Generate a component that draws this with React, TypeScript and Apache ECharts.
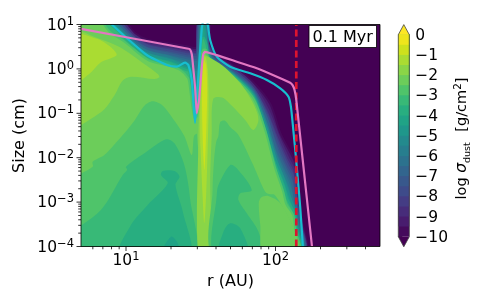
import React, { useEffect, useRef } from "react";
import * as echarts from "echarts";

type P = [number, number];
// All contour outlines and curves are [log10 r (AU), log10 size (cm)].
const level10: P[] = [[.699,-4],[.699,1],[.96,1],[1.06,.809],[1.148,.651],[1.295,.572],[1.415,.505],[1.455,.471],[1.479,.493],[1.482,1],[1.556,1],[1.559,.561],[1.596,.336],[1.717,.072],[1.851,-.295],[1.965,-.791],[2.032,-1.444],[2.098,-1.872],[2.132,-2.12],[2.152,-2.728],[2.169,-3.291],[2.186,-4]];
const level9: P[] = [[.699,-4],[.699,1],[.94,1],[1.06,.752],[1.148,.583],[1.295,.493],[1.402,.426],[1.442,.403],[1.469,.381],[1.475,.426],[1.486,1],[1.549,1],[1.552,.561],[1.57,.426],[1.596,.279],[1.717,.032],[1.851,-.363],[1.951,-.926],[2.025,-1.556],[2.085,-2.007],[2.125,-2.277],[2.145,-2.818],[2.165,-3.358],[2.182,-4]];
const level8: P[] = [[.699,-4],[.699,1],[.913,1],[1.06,.696],[1.148,.516],[1.295,.414],[1.402,.336],[1.442,.324],[1.469,.313],[1.475,.358],[1.489,1],[1.546,1],[1.549,.561],[1.566,.403],[1.596,.245],[1.717,-.014],[1.851,-.43],[1.945,-1.038],[2.018,-1.691],[2.078,-2.142],[2.118,-2.412],[2.139,-2.908],[2.162,-3.403],[2.179,-4]];
const level7: P[] = [[.699,-4],[.699,1],[.893,1],[1.06,.64],[1.148,.448],[1.295,.336],[1.402,.245],[1.442,.223],[1.469,.2],[1.479,.245],[1.496,1],[1.539,1],[1.546,.561],[1.563,.358],[1.596,.2],[1.717,-.07],[1.851,-.475],[1.945,-1.129],[2.011,-1.827],[2.072,-2.277],[2.109,-2.547],[2.132,-2.998],[2.159,-3.448],[2.176,-4]];
const level6: P[] = [[.699,-4],[.699,1],[.873,1],[1.06,.583],[1.148,.392],[1.295,.268],[1.402,.155],[1.428,.133],[1.449,.02],[1.466,-.025],[1.479,.02],[1.496,.538],[1.502,1],[1.532,1],[1.543,.561],[1.559,.313],[1.596,.167],[1.717,-.104],[1.851,-.52],[1.938,-1.218],[2.005,-1.939],[2.065,-2.412],[2.098,-2.682],[2.125,-3.088],[2.152,-3.493],[2.172,-4]];
const level5: P[] = [[.699,-4],[.699,1],[.853,1],[1.06,.527],[1.148,.336],[1.295,.2],[1.402,.065],[1.425,.043],[1.445,-.25],[1.466,-.43],[1.479,-.363],[1.492,.2],[1.502,.921],[1.516,.989],[1.529,.921],[1.539,.538],[1.556,.291],[1.596,.133],[1.717,-.126],[1.851,-.565],[1.938,-1.309],[2.005,-2.052],[2.059,-2.502],[2.088,-2.795],[2.125,-3.155],[2.145,-3.538],[2.169,-4]];
const level4: P[] = [[.699,-4],[.699,1],[.832,1],[1.06,.471],[1.148,.268],[1.295,.133],[1.402,-.025],[1.422,-.047],[1.439,-.363],[1.455,-.813],[1.469,-.813],[1.479,-.768],[1.492,-.137],[1.499,.426],[1.509,.696],[1.522,.696],[1.539,.538],[1.552,.268],[1.596,.11],[1.717,-.149],[1.851,-.61],[1.931,-1.399],[1.998,-2.142],[2.055,-2.637],[2.079,-2.93],[2.122,-3.223],[2.139,-3.583],[2.165,-4]];
const level3: P[] = [[.699,-4],[.699,1],[.806,1],[.893,.831],[.993,.606],[1.148,.2],[1.295,.065],[1.362,-.025],[1.415,-.205],[1.428,-.43],[1.442,-.813],[1.459,-1.106],[1.475,-1.061],[1.489,-.475],[1.496,-.025],[1.502,.245],[1.516,.426],[1.536,.426],[1.549,.268],[1.603,.065],[1.717,-.182],[1.851,-.655],[1.931,-1.376],[1.998,-2.232],[2.052,-2.773],[2.072,-3.043],[2.118,-3.291],[2.132,-3.628],[2.158,-4]];

const leftB: P[] = [[.699,.86],[.826,.673],[.96,.487],[1.122,.11],[1.212,-.115],[1.223,-.19],[1.189,-.227],[1.033,-.175],[.977,-.266],[.921,-.604],[.832,-.978],[.699,-1.331]];
const leftA: P[] = [[.699,.786],[.81,.673],[.899,.487],[.938,.32],[.899,.239],[.832,.149],[.754,-.115],[.699,-.437]];
const leftD: P[] = [[.699,-2.615],[.777,-2.203],[.777,-2.09],[.855,-1.94],[.978,-1.489],[1.056,-1.167],[1.123,-.829],[1.179,-.73],[1.246,-.829],[1.324,-1.167],[1.39,-1.511],[1.44,-1.939],[1.455,-1.511],[1.475,-1.466],[1.478,-4],[.699,-4]];
const leftE: P[] = [[.699,-3.815],[.832,-3.178],[.978,-2.39],[1.007,-2.277],[1,-2.203],[1.123,-1.901],[1.268,-1.586],[1.324,-1.676],[1.39,-2.164],[1.428,-2.907],[1.446,-4],[.699,-4]];
const leftF: P[] = [[.955,-4],[1.033,-3.516],[1.145,-3.065],[1.279,-2.577],[1.234,-2.39],[1.246,-2.3],[1.324,-2.3],[1.358,-2.428],[1.331,-2.615],[1.38,-3.216],[1.424,-4]];
const leftG: P[] = [[1.234,-4],[1.301,-3.78],[1.346,-3.928],[1.357,-4]];

const ridgeB: P[] = [[1.484,-4],[1.484,-1.601],[1.492,-.7],[1.499,-.07],[1.516,.313],[1.541,.291],[1.649,.065],[1.764,-.318],[1.831,-.655],[1.878,-.993],[1.884,-1.196],[1.851,-1.376],[1.797,-1.151],[1.71,-.836],[1.643,-.644],[1.583,-.678],[1.573,-1.511],[1.563,-2.502],[1.563,-4]];
const ridgeA: P[] = [[1.496,-1.601],[1.499,-.475],[1.509,.155],[1.522,.291],[1.536,.245],[1.549,-.137],[1.552,-.926],[1.546,-1.827],[1.536,-2.84],[1.524,-3.471],[1.512,-2.84],[1.499,-1.827]];
const ridgeY: P[] = [[1.512,-.025],[1.522,.2],[1.536,.088],[1.543,-.475],[1.539,-1.151],[1.532,-1.827],[1.524,-2.277],[1.516,-1.827],[1.509,-.926]];

const rightD: P[] = [[1.618,-1.511],[1.63,-1.196],[1.663,-1.167],[1.697,-1.309],[1.752,-1.489],[1.851,-2.164],[1.931,-2.766],[1.965,-2.824],[1.991,-2.829],[2.032,-3.02],[2.118,-3.583],[2.152,-4],[1.585,-4],[1.579,-2.728],[1.589,-2.052],[1.603,-1.646]];
const rightE: P[] = [[1.589,-4],[1.607,-2.84],[1.618,-2.615],[1.697,-2.164],[1.741,-2.239],[1.841,-2.728],[1.764,-2.802],[1.752,-2.953],[1.808,-3.252],[1.886,-3.667],[1.908,-4]];
const rightF: P[] = [[1.618,-4],[1.652,-3.667],[1.697,-3.478],[1.764,-3.59],[1.819,-4]];
const rightBlob: P[] = [[1.888,-3.02],[1.904,-2.897],[1.951,-2.863],[2.032,-3.027],[2.121,-3.59],[2.154,-4],[1.92,-4],[1.898,-3.516]];

const pinkCurve: P[] = [[.699,.9],[1.408,.46],[1.428,.44],[1.44,.33],[1.446,.16],[1.462,-.408],[1.473,-1],[1.489,-.7],[1.507,.05],[1.517,.33],[1.527,.385],[1.741,.162],[1.875,.014],[2.009,-.176],[2.098,-.31],[2.115,-.37],[2.127,-.47],[2.139,-.7],[2.244,-4]];
const cyanCurve: P[] = [[.905,1],[1.005,.696],[1.139,.313],[1.272,.088],[1.339,.05],[1.395,.14],[1.417,.088],[1.44,-.25],[1.462,-1.216],[1.475,-.588],[1.496,.426],[1.506,.876],[1.511,1],[1.53,1.3],[1.547,1],[1.563,.651],[1.607,.275],[1.697,.05],[1.831,-.1],[1.942,-.25],[2.032,-.437],[2.087,-.626],[2.103,-.851],[2.117,-1.3],[2.132,-1.827],[2.144,-2.277],[2.165,-3.1],[2.183,-4]];
const cutoffR = 137.7;

const rMinorTicks = [6, 7, 8, 9, 20, 30, 40, 50, 60, 70, 80, 90, 200, 300, 400];
const rMajorTicks = [10, 100];
const sizeMajorTicks = [1e-4, 1e-3, 1e-2, 1e-1, 1, 10];
const sizeMinorTicks = [2e-4,3e-4,4e-4,5e-4,6e-4,7e-4,8e-4,9e-4,2e-3,3e-3,4e-3,5e-3,6e-3,7e-3,8e-3,9e-3,.02,.03,.04,.05,.06,.07,.08,.09,.2,.3,.4,.5,.6,.7,.8,.9,2,3,4,5,6,7,8,9];

const bandLows = [-10,-9.5,-9,-8.5,-8,-7.5,-7,-6.5,-6,-5.5,-5,-4.5,-4,-3.5,-3,-2.5,-2,-1.5,-1,-0.5];
const bandColors = ["#450a5c","#481c6e","#472c7a","#443c84","#3e4b8a","#38588c","#32658e","#2c728e","#277e8e","#238a8d","#1f978b","#20a386","#28ae80","#38b977","#4fc46a","#6ccd5a","#8ad547","#aadc32","#cde11d","#eee51c"];

const UNDER = "#440154";
// outline, fill, colour of the half-decade band along its edge
const regions: [P[], string, string | null][] = [
  [level10, "#481c6e", "#450a5c"], [level9, "#443c84", "#472c7a"], [level8, "#38588c", "#3e4b8a"], [level7, "#2c728e", "#32658e"],
  [level6, "#238a8d", "#277e8e"], [level5, "#20a386", "#1f978b"], [level4, "#38b977", "#28ae80"], [level3, "#6ccd5a", "#4fc46a"],
  [leftB, "#8ad547", null], [leftA, "#aadc32", null], [leftD, "#4fc46a", null], [leftE, "#38b977", null], [leftF, "#28ae80", null], [leftG, "#20a386", null],
  [ridgeB, "#8ad547", null], [ridgeA, "#aadc32", null], [ridgeY, "#cde11d", null],
  [rightD, "#4fc46a", null], [rightE, "#38b977", null], [rightF, "#28ae80", null], [rightBlob, "#6ccd5a", null],
];

const FONT = "DejaVu Sans";
const toAU = (p: P[]) => p.map(([a, b]) => [Math.pow(10, a), Math.pow(10, b)]);
// Outlines that stop on the frame run on past it, so that smoothing never rounds them inside the plot.
const pastFrame = (p: P[]): P[] => p.map(([a, b]) => [a <= 0.699 ? 0.6 : a, b >= 1 ? 1.15 : b <= -4 ? -4.2 : b]);
const powerLabel = (v: number) => {
  const e = Math.log10(v);
  const r = Math.round(e);
  if (Math.abs(e - r) > 1e-6) return "";
  return `{b|10}{s|${String(r).replace("-", "\u2212")}}`;
};
const richPower = {
  b: { fontFamily: FONT, fontSize: 15.5, color: "#000", lineHeight: 20 },
  s: { fontFamily: FONT, fontSize: 11.5, color: "#000", lineHeight: 11, verticalAlign: "top" },
};

export default function App() {
  const ref = useRef<HTMLDivElement>(null);
  useEffect(() => {
    const chart = echarts.init(ref.current!, null, { renderer: "svg" });
    const tickItem = (axis: "x" | "y", len: number) => (_: any, api: any) => {
      const v = api.value(0);
      const p = axis === "x" ? api.coord([v, 1e-4]) : api.coord([5, v]);
      return {
        type: "line",
        shape: axis === "x" ? { x1: p[0], y1: p[1], x2: p[0], y2: p[1] + len } : { x1: p[0], y1: p[1], x2: p[0] - len, y2: p[1] },
        style: { stroke: "#000", lineWidth: 0.8 },
      };
    };
    const tickSeries = (axis: "x" | "y", values: number[], len: number) => ({
      type: "custom", clip: false, z: 6, silent: true,
      renderItem: tickItem(axis, len),
      encode: axis === "x" ? { x: 0 } : { y: 0 },
      data: values.map((v) => [v]),
    });
    chart.setOption({
      animation: false,
      grid: [
        { left: 81, top: 24.5, width: 299, height: 222, show: true, backgroundColor: UNDER, borderWidth: 0 },
        { left: 398.3, top: 34.7, width: 11, height: 202, show: false },
      ],
      xAxis: [
        {
          type: "log", logBase: 10, min: 5, max: 500, gridIndex: 0,
          name: "r (AU)", nameLocation: "middle", nameGap: 24,
          nameTextStyle: { fontFamily: FONT, fontSize: 16, color: "#000" },
          axisLine: { show: false }, axisTick: { show: false }, splitLine: { show: false },
          axisLabel: { margin: 3, formatter: powerLabel, rich: richPower, hideOverlap: false },
        },
        { type: "value", min: 0, max: 1, gridIndex: 1, show: false },
      ],
      yAxis: [
        {
          type: "log", logBase: 10, min: 1e-4, max: 10, gridIndex: 0,
          name: "Size (cm)", nameLocation: "middle", nameGap: 46, nameRotate: 90,
          nameTextStyle: { fontFamily: FONT, fontSize: 16, color: "#000" },
          axisLine: { show: false }, axisTick: { show: false }, splitLine: { show: false },
          axisLabel: { margin: 7, formatter: powerLabel, rich: richPower, hideOverlap: false, showMinLabel: true, showMaxLabel: true },
        },
        {
          type: "value", min: -10, max: 0, interval: 1, gridIndex: 1, position: "right",
          axisLine: { show: false }, splitLine: { show: false },
          axisTick: { show: true, length: 4, lineStyle: { color: "#000", width: 0.8 } },
          axisLabel: {
            margin: 6, fontFamily: FONT, fontSize: 15.5, color: "#000",
            formatter: (v: number) => String(v).replace("-", "\u2212"),
          },
        },
      ],
      series: [
        {
          type: "custom", silent: true, z: 2, clip: true,
          renderItem: (_: any, api: any) => {
            const [poly, color, edge] = regions[api.value(2)];
            return {
              type: "polygon",
              shape: { points: toAU(pastFrame(poly)).map((d) => api.coord(d)), smooth: 0.3 },
              style: edge ? { fill: color, stroke: edge, lineWidth: 2 } : { fill: color },
            };
          },
          encode: { x: 0, y: 1 },
          data: regions.map((_, i) => [5, 1e-4, i]),
        },
        { type: "line", data: toAU(cyanCurve), showSymbol: false, z: 3, silent: true, smooth: 0.2, lineStyle: { color: "#17becf", width: 2.2 } },
        { type: "line", data: [[cutoffR, 1e-4], [cutoffR, 10]], showSymbol: false, z: 3, silent: true, lineStyle: { color: "#dc1430", width: 2.7, type: [7, 3.5] } },
        { type: "line", data: toAU(pinkCurve), showSymbol: false, z: 3, silent: true, smooth: 0.1, lineStyle: { color: "#e377c2", width: 2.2 } },
        tickSeries("x", rMinorTicks, 2.8),
        tickSeries("x", rMajorTicks, 4.5),
        tickSeries("y", sizeMinorTicks, 2.8),
        tickSeries("y", sizeMajorTicks, 4.5),
        {
          type: "custom", clip: false, z: 6, silent: true,
          renderItem: (_: any, api: any) => {
            const a = api.coord([5, 1e-4]);
            const b = api.coord([500, 10]);
            return { type: "rect", shape: { x: a[0], y: b[1], width: b[0] - a[0], height: a[1] - b[1] }, style: { fill: "none", stroke: "#000", lineWidth: 0.8 } };
          },
          encode: { x: 0, y: 1 },
          data: [[5, 1e-4]],
        },
        {
          type: "custom", clip: false, silent: true, xAxisIndex: 1, yAxisIndex: 1, z: 2,
          renderItem: (_: any, api: any) => {
            const i = api.value(0);
            const a = api.coord([0, bandLows[i]]);
            const b = api.coord([1, 0]);
            return { type: "rect", shape: { x: a[0], y: b[1], width: b[0] - a[0], height: a[1] - b[1] }, style: { fill: bandColors[i] } };
          },
          encode: { y: 1 },
          data: bandLows.map((v, i) => [i, v]),
        },
        {
          type: "custom", clip: false, silent: true, xAxisIndex: 1, yAxisIndex: 1, z: 3,
          renderItem: (_: any, api: any) => {
            const over = api.value(0) === 1;
            const pts = over ? [[0, 0], [0.5, 0.5], [1, 0]] : [[0, -10], [0.5, -10.5], [1, -10]];
            return { type: "polygon", shape: { points: pts.map((d) => api.coord(d)) }, style: { fill: over ? "#fde725" : UNDER } };
          },
          data: [[0, -10], [1, 0]],
          encode: { y: 1 },
        },
        {
          type: "custom", clip: false, silent: true, xAxisIndex: 1, yAxisIndex: 1, z: 4,
          renderItem: (_: any, api: any) => {
            const pts = [[0, -10], [0.5, -10.5], [1, -10], [1, 0], [0.5, 0.5], [0, 0]];
            return { type: "polygon", shape: { points: pts.map((d) => api.coord(d)) }, style: { fill: "none", stroke: "#444", lineWidth: 0.8 } };
          },
          data: [[0, 0]],
          encode: { y: 1 },
        },
      ],
      graphic: [
        { type: "rect", z: 50, shape: { x: 309, y: 25.5, width: 67.5, height: 22 }, style: { fill: "#fff", stroke: "#000", lineWidth: 0.8 } },
        { type: "text", z: 51, x: 342.7, y: 36.5, style: { text: "0.1 Myr", fontFamily: FONT, fontSize: 16, fill: "#000", align: "center", verticalAlign: "middle" } },
        {
          type: "text", z: 51, x: 461, y: 138.5, rotation: Math.PI / 2,
          style: {
            text: "{a|log }{i|\u03c3}{s|dust}{g| }{a|[g/cm}{p|2}{a|]}",
            align: "center", verticalAlign: "middle",
            rich: {
              a: { fontFamily: FONT, fontSize: 14.5, fill: "#000", lineHeight: 20 },
              i: { fontFamily: FONT, fontSize: 15.5, fontStyle: "italic", fill: "#000", lineHeight: 20 },
              s: { fontFamily: FONT, fontSize: 9.5, fill: "#000", lineHeight: 10, verticalAlign: "bottom" },
              p: { fontFamily: FONT, fontSize: 10.5, fill: "#000", lineHeight: 11, verticalAlign: "top" },
              g: { fontFamily: FONT, fontSize: 14.5, fill: "#000", lineHeight: 20, padding: [0, 3, 0, 3] },
            },
          },
        },
      ],
    });
    return () => chart.dispose();
  }, []);
  return <div ref={ref} style={{ position: "fixed", left: 0, top: 0, width: 491, height: 307, filter: "blur(0.35px)" }} />;
}
